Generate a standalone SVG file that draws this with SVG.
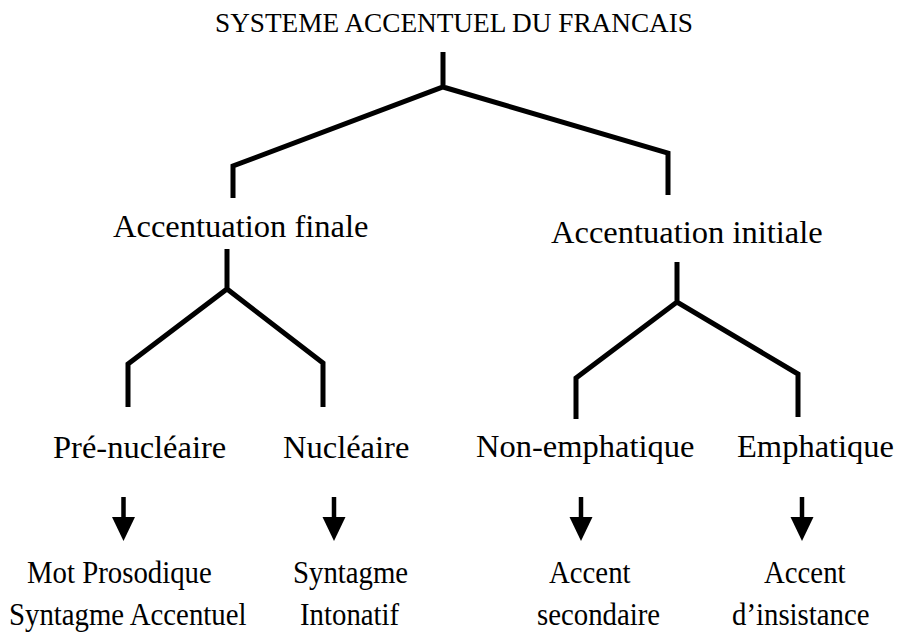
<svg xmlns="http://www.w3.org/2000/svg" width="908" height="636" viewBox="0 0 908 636">
  <style>
    text { font-family: "Liberation Serif", "Times New Roman", serif; fill: #000; }
    .title { font-size: 27.3px; }
    .lvl { font-size: 32.5px; }
    .leaf { font-size: 28.8px; }
    .branch { fill: none; stroke: #000; stroke-width: 5; stroke-linejoin: miter; stroke-linecap: butt; }
    .shaft { stroke: #000; stroke-width: 4.5; }
    .head { fill: #000; }
  </style>
  <defs>
    <g id="down-arrow">
      <line class="shaft" x1="0" y1="497" x2="0" y2="519"/>
      <polygon class="head" points="-11.5,517 11.5,517 0,541"/>
    </g>
  </defs>
  <rect width="908" height="636" fill="#fff"/>

  <g id="connectors">
    <!-- root split -->
    <path class="branch" d="M443,52 V87 M233,198 V166 L443,87 L668,153 V195"/>
    <!-- final accentuation split -->
    <path class="branch" d="M227,249 V289 M128,407 V364 L227,289 L323,363 V407"/>
    <!-- initial accentuation split -->
    <path class="branch" d="M677,262 V302 M576,419 V378 L677,302 L798,374 V417"/>
    <!-- result arrows -->
    <use href="#down-arrow" x="123.5"/>
    <use href="#down-arrow" x="334"/>
    <use href="#down-arrow" x="581"/>
    <use href="#down-arrow" x="802"/>
  </g>

  <g id="root">
    <text class="title" x="215" y="32" textLength="478" lengthAdjust="spacingAndGlyphs">SYSTEME ACCENTUEL DU FRANCAIS</text>
  </g>
  <g id="accentuation-finale">
    <text class="lvl" x="113" y="237">Accentuation finale</text>
  </g>
  <g id="accentuation-initiale">
    <text class="lvl" x="551" y="243">Accentuation initiale</text>
  </g>
  <g id="pre-nucleaire">
    <text class="lvl" x="53" y="458">Pré-nucléaire</text>
  </g>
  <g id="nucleaire">
    <text class="lvl" x="283" y="458">Nucléaire</text>
  </g>
  <g id="non-emphatique">
    <text class="lvl" x="476" y="457">Non-emphatique</text>
  </g>
  <g id="emphatique">
    <text class="lvl" x="737" y="457">Emphatique</text>
  </g>
  <!-- leaf labels are set slightly taller than wide -->
  <g id="mot-prosodique">
    <text class="leaf" transform="translate(27,583) scale(1,1.1)">Mot Prosodique</text>
    <text class="leaf" transform="translate(9,625) scale(1,1.1)">Syntagme Accentuel</text>
  </g>
  <g id="syntagme-intonatif">
    <text class="leaf" transform="translate(293,583) scale(1,1.1)">Syntagme</text>
    <text class="leaf" transform="translate(300,625) scale(1,1.1)">Intonatif</text>
  </g>
  <g id="accent-secondaire">
    <text class="leaf" transform="translate(549,583) scale(1,1.1)">Accent</text>
    <text class="leaf" transform="translate(537,625) scale(1,1.1)">secondaire</text>
  </g>
  <g id="accent-insistance">
    <text class="leaf" transform="translate(764,583) scale(1,1.1)">Accent</text>
    <text class="leaf" transform="translate(732,625) scale(1,1.1)">d’insistance</text>
  </g>
</svg>
